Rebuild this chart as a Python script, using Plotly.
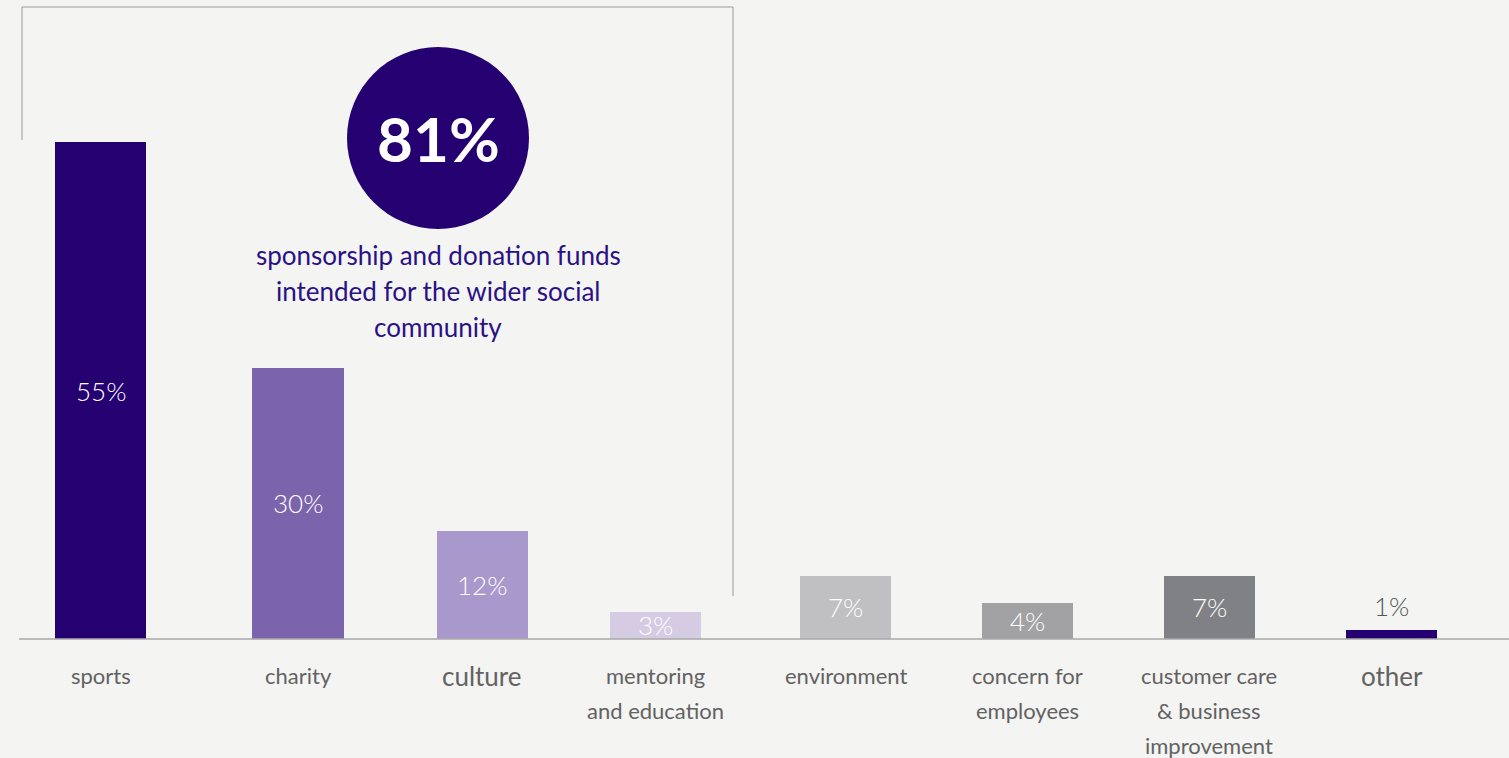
import plotly.graph_objects as go

categories = ["sports", "charity", "culture", "mentoring<br>and education", "environment",
              "concern for<br>employees", "customer care<br>& business<br>improvement", "other"]
values = [55, 30, 12, 3, 7, 4, 7, 1]
value_labels = ["55%", "30%", "12%", "3%", "7%", "4%", "7%", "1%"]
bar_colors = ["#240071", "#7B64AB", "#A898CB", "#D5CCE4", "#C0C0C2", "#A2A2A4", "#7F8184", "#240071"]
large_label_cats = ["culture", "other"]
highlight_value = "81%"
highlight_text = ["sponsorship and donation funds", "intended for the wider social", "community"]

FONT = "Lato"
BG = "#F4F4F2"
W, H = 1509, 758
BASE = 639          # pixel row of the baseline
PX_PER_UNIT = 497 / 55
BAR_W = 0.495
# small horizontal nudges (pixels) to reproduce the original's uneven spacing
NUDGE_PX = [0.5, 13.6, 13.6, 2.2, 7.8, 5.4, 2.9, 0.5]

n = len(categories)
step = (1391 - 100) / (n - 1)   # pixels per category

fig = go.Figure()
fig.add_trace(go.Bar(
    x=list(range(n)), y=values,
    marker=dict(color=bar_colors, line=dict(width=0)),
    width=BAR_W, offset=[-BAR_W / 2 + d / step for d in NUDGE_PX],
    hoverinfo="skip",
))

# bar value labels
for i, (v, t) in enumerate(zip(values, value_labels)):
    if v < 2:
        fig.add_annotation(x=i, y=v, text=t, showarrow=False, yanchor="bottom", yshift=6,
                           xshift=NUDGE_PX[i],
                           font=dict(family=FONT, size=26, color="#555555", weight=300))
    else:
        fig.add_annotation(x=i, y=v / 2, text=t, showarrow=False, yanchor="middle",
                           xshift=NUDGE_PX[i],
                           font=dict(family=FONT, size=26, color="#FFFFFF", weight=300))

# category labels (one annotation per line for wide line spacing)
for i, c in enumerate(categories):
    size = 26 if c in large_label_cats else 22
    for j, line in enumerate(c.split("<br>")):
        fig.add_annotation(x=i, y=0, yref="paper", text=line, showarrow=False,
                           yanchor="middle", yshift=-(36 + 35 * j) - (1 if size == 26 else 0),
                           xshift=NUDGE_PX[i],
                           font=dict(family=FONT, size=size, color="#626262"))

def px(x):
    return x / W

def py(y):
    return (BASE - y) / BASE

# baseline
fig.add_shape(type="line", xref="paper", yref="paper", x0=px(19), x1=1, y0=0, y1=0,
              line=dict(color="#A8A8A8", width=1.5))
# bracket
fig.add_shape(type="path", xref="paper", yref="paper",
              path=f"M {px(22)},{py(140)} L {px(22)},{py(7)} L {px(733)},{py(7)} L {px(733)},{py(596)}",
              line=dict(color="#9A9A9A", width=1))
# circle
fig.add_shape(type="circle", xref="paper", yref="paper",
              x0=px(347), x1=px(529), y0=py(229), y1=py(47),
              fillcolor="#240071", line=dict(width=0))
fig.add_annotation(xref="paper", yref="paper", x=px(438), y=py(138), text=f"<b>{highlight_value}</b>",
                   showarrow=False, xanchor="center", yanchor="middle",
                   font=dict(family=FONT, size=62, color="#FFFFFF"))
for j, line in enumerate(highlight_text):
    fig.add_annotation(xref="paper", yref="paper", x=px(438), y=py(255 + 36 * j), text=line,
                       showarrow=False, xanchor="center", yanchor="middle",
                       font=dict(family=FONT, size=26, color="#2A1185"))

fig.update_layout(
    width=W, height=H,
    margin=dict(l=0, r=0, t=0, b=H - BASE),
    paper_bgcolor=BG, plot_bgcolor=BG,
    showlegend=False,
    xaxis=dict(range=[-100 / step, (n - 1) + (W - 1391) / step], showticklabels=False,
               showgrid=False, zeroline=False, showline=False, fixedrange=True),
    yaxis=dict(range=[0, BASE / PX_PER_UNIT], showticklabels=False, showgrid=False,
               zeroline=False, showline=False, fixedrange=True),
    bargap=0,
)

fig.write_html("out.html", config={"displayModeBar": False},
               post_script="document.body.style.margin='0';document.body.style.background='#F4F4F2';document.body.style.overflow='hidden';")
